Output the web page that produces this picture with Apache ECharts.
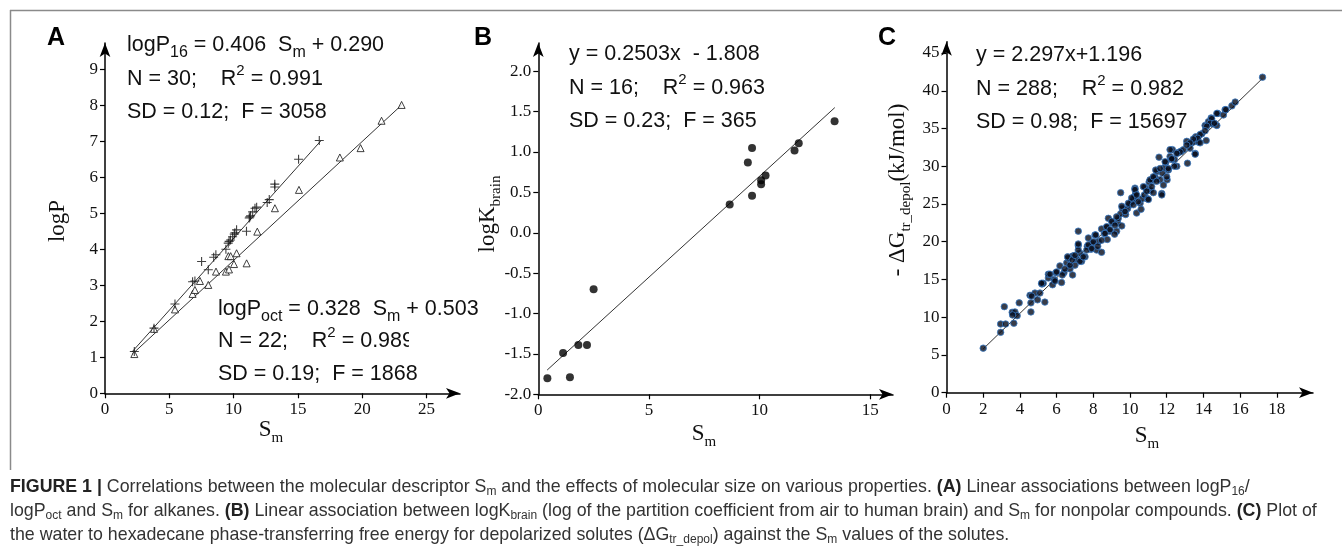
<!DOCTYPE html>
<html><head><meta charset="utf-8">
<script src="https://cdn.jsdelivr.net/npm/echarts@6/dist/echarts.min.js"></script>
<style>html,body{margin:0;padding:0;background:#fff}#c{width:1342px;height:556px}</style>
</head><body><div id="c"></div><script>
// ---------- DATA ----------
// Panel A: logP16 (plus) and logPoct (triangle) vs Sm
const plusA = [[2.28,1.16],[3.81,1.81],[5.44,2.48],[6.81,3.10],[6.99,3.12],[7.51,3.66],[8.03,3.43],[8.45,3.78],[8.62,3.85],[9.40,4.00],[9.58,4.17],[9.76,4.26],[9.92,4.35],[10.10,4.46],[10.23,4.54],[11.00,4.50],[11.21,4.87],[11.32,4.93],[11.48,5.04],[11.66,5.14],[11.79,5.17],[12.61,5.30],[12.77,5.38],[13.20,5.73],[13.20,5.81],[15.05,6.50],[16.66,7.02],[9.65,4.22],[11.26,4.90],[10.05,4.42]];
const triA = [[2.28,1.09],[3.81,1.79],[5.44,2.33],[6.81,2.76],[6.99,2.87],[7.38,3.12],[8.03,3.01],[8.63,3.38],[9.40,3.38],[9.64,3.44],[9.59,3.81],[9.77,3.81],[10.03,3.59],[10.23,3.89],[11.01,3.61],[11.84,4.49],[13.21,5.14],[15.08,5.65],[18.26,6.55],[19.87,6.81],[21.50,7.57],[23.06,8.01]];
const lineA16 = [[2.1,1.15],[16.8,7.02]];
const lineAoct = [[2.1,1.08],[23.1,8.02]];
const xTicksA = [0,5,10,15,20,25];
const yTicksA = [0,1,2,3,4,5,6,7,8,9];
// Panel B: logKbrain vs Sm
const dotsB = [[0.41,-1.80],[1.12,-1.49],[1.43,-1.79],[1.81,-1.39],[2.20,-1.39],[2.50,-0.70],[8.65,0.35],[9.47,0.87],[9.66,1.05],[9.66,0.46],[10.07,0.65],[10.07,0.60],[10.27,0.71],[11.58,1.02],[11.77,1.11],[13.39,1.38]];
const lineB = [[0.4,-1.70],[13.4,1.55]];
const xTicksB = [0,5,10,15];
const yTicksB = [-2,-1.5,-1,-0.5,0,0.5,1,1.5,2];
// Panel C: -dG_tr_depol vs Sm
const dotsC = [[2.0,5.9],[2.95,8.0],[2.95,9.1],[3.22,9.1],[3.15,11.4],[3.67,9.2],[3.58,10.65],[3.73,10.7],[3.85,10.2],[3.96,11.9],[4.6,10.7],[4.55,12.9],[4.6,11.9],[4.82,13.2],[4.96,12.3],[5.09,13.2],[5.2,14.4],[5.36,12.0],[5.27,14.5],[5.55,15.2],[5.55,15.7],[5.78,14.3],[5.87,15.0],[5.96,15.9],[6.18,16.8],[6.27,14.6],[6.4,15.9],[6.55,17.2],[6.64,17.8],[6.73,16.4],[6.87,15.6],[6.87,18.1],[7.0,16.9],[7.09,17.7],[7.18,21.4],[7.18,19.5],[7.27,18.5],[7.36,17.4],[7.55,18.0],[7.67,19.4],[7.73,20.5],[7.87,19.0],[7.95,19.8],[8.09,20.9],[8.18,18.9],[8.27,20.0],[8.45,18.6],[8.45,21.7],[8.6,21.1],[8.73,21.9],[8.76,20.3],[8.82,23.1],[8.91,21.4],[9.04,22.5],[9.27,21.4],[9.33,22.5],[9.36,23.1],[9.49,26.5],[9.49,23.7],[9.58,24.4],[9.55,22.1],[9.76,23.6],[9.87,24.4],[9.96,24.9],[10.09,25.3],[10.18,25.6],[10.24,26.0],[10.31,26.4],[10.36,23.8],[10.27,27.1],[10.55,25.1],[10.6,24.3],[10.67,25.7],[10.78,26.2],[10.82,27.2],[10.96,25.7],[11.04,27.9],[11.11,26.8],[11.22,28.2],[11.27,26.5],[11.36,28.6],[11.47,29.3],[11.58,31.2],[11.64,28.2],[11.73,26.4],[11.76,29.1],[11.87,29.8],[11.95,30.5],[12.02,28.2],[12.09,29.5],[12.18,31.3],[12.31,32.2],[12.42,30.9],[12.55,30.0],[12.6,31.8],[12.78,32.0],[12.91,32.2],[13.09,33.3],[13.13,30.4],[13.27,32.4],[13.45,33.2],[13.55,31.7],[13.58,33.9],[13.73,33.2],[13.91,34.3],[14.09,35.4],[14.15,33.4],[14.27,35.9],[14.42,36.4],[14.55,35.6],[14.73,35.4],[14.78,37.0],[15.09,36.8],[15.18,37.5],[15.55,38.0],[15.73,38.5],[17.22,41.8],
[5.18,14.5],[5.64,15.7],[5.91,14.8],[6.0,16.0],[6.31,15.6],[6.45,16.4],[6.6,18.0],[6.73,16.9],[6.85,17.6],[7.0,18.2],[7.18,18.9],[7.18,19.7],[7.27,17.4],[7.45,18.0],[7.64,18.9],[7.73,19.6],[7.91,19.1],[8.0,20.0],[8.13,20.9],[8.24,19.4],[8.45,20.2],[8.64,21.1],[8.73,22.0],[8.91,21.6],[9.0,22.7],[9.18,22.2],[9.27,23.3],[9.16,21.0],
[9.55,24.7],[9.73,24.0],[9.91,25.1],[10.09,25.8],[10.18,24.9],[10.27,26.9],[10.36,26.2],[10.45,25.3],[10.73,27.3],[10.91,26.7],[11.0,25.6],[11.09,28.2],[11.18,27.3],[11.27,28.6],[11.4,29.5],[11.45,28.0],[11.64,29.7],[11.73,26.2],[11.82,27.5],[11.91,30.6],[12.0,28.6],[12.09,29.7],[12.18,32.2],[12.27,30.9],[12.42,30.0],
[15.22,37.5],[14.73,37.0],[14.45,36.3],[14.36,35.7],[14.6,35.7],[14.18,35.3],[14.09,34.7],[13.82,34.2],[13.69,33.7],[13.45,33.6],[13.82,33.1],[13.27,33.1],[13.09,32.8],[12.73,31.9],[13.55,31.6],[12.55,31.7],[12.27,31.0],[4.64,12.8],[3.6,10.3]];
const lineC = [[2.0,5.8],[17.2,41.6]];
const xTicksC = [0,2,4,6,8,10,12,14,16,18];
const yTicksC = [0,5,10,15,20,25,30,35,40,45];

// ---------- STYLE HELPERS ----------
const SERIF = 'Liberation Serif', SANS = 'Liberation Sans';
function mkAxis(gi, min, max, interval, ticks, fmt, isX){
  return {
    type:'value', gridIndex:gi, min:min, max:max, interval:interval,
    axisLine:{show:true, onZero:false, symbol:['none','arrow'], symbolSize:[8,14], lineStyle:{color:'#000', width:1.5}},
    axisTick:{show:true, inside:false, length:5, lineStyle:{color:'#000', width:1.2}, customValues:ticks},
    axisLabel:{show:true, customValues:ticks, fontFamily:SERIF, fontSize:17, color:'#111', margin:isX?8:7,
      formatter: fmt},
    splitLine:{show:false}
  };
}
const intFmt = v => String(v);
const oneFmt = v => v.toFixed(1);

function eq(x, y, text){
  return {type:'text', x:x, y:y, style:{text:text, x:0, y:0, fontFamily:SANS, fontSize:21.5, fill:'#111', lineHeight:30, verticalAlign:'middle', align:'left',
    rich:{
      sub:{fontFamily:SANS, fontSize:16, lineHeight:16, verticalAlign:'bottom', fill:'#111'},
      sup:{fontFamily:SANS, fontSize:15, lineHeight:15, verticalAlign:'top', fill:'#111'}
    }}};
}
function title(x, y, text, rot){
  return {type:'text', x:x, y:y, rotation:rot||0, style:{text:text, x:0, y:0, fontFamily:SERIF, fontSize:23, fill:'#111', lineHeight:32, verticalAlign:'middle', align:'center',
    rich:{ sub:{fontFamily:SERIF, fontSize:15, lineHeight:15, verticalAlign:'bottom', fill:'#111'} }}};
}
function letter(x, y, t){
  return {type:'text', x:x, y:y, style:{text:t, x:0, y:0, fontFamily:SANS, fontWeight:'bold', fontSize:25, fill:'#000', verticalAlign:'middle', align:'left'}};
}
function cap(y, text){
  return {type:'text', x:10, y:y, style:{text:text, x:0, y:0, fontFamily:SANS, fontSize:17.8, fill:'#333', lineHeight:22, verticalAlign:'middle', align:'left',
    rich:{
      b:{fontFamily:SANS, fontSize:17.8, fontWeight:'bold', fill:'#222', lineHeight:22},
      sub:{fontFamily:SANS, fontSize:12, lineHeight:12, verticalAlign:'bottom', fill:'#333'}
    }}};
}

const lineStyleFit = {color:'#333', width:1};
const option = {
  animation:false,
  backgroundColor:'#fff',
  grid:[
    {left:105, top:43, width:355, height:350.3},
    {left:538.3, top:43, width:354.7, height:351.3},
    {left:946.5, top:41.7, width:366.5, height:351}
  ],
  xAxis:[
    mkAxis(0, 0, 27.6, 5, xTicksA, intFmt, true),
    mkAxis(1, 0, 16.03, 5, xTicksB, intFmt, true),
    mkAxis(2, 0, 19.97, 2, xTicksC, intFmt, true)
  ],
  yAxis:[
    mkAxis(0, 0, 9.73, 1, yTicksA, intFmt, false),
    mkAxis(1, -2, 2.35, 0.5, yTicksB, oneFmt, false),
    mkAxis(2, 0, 46.5, 5, yTicksC, intFmt, false)
  ],
  series:[
    {type:'line', xAxisIndex:0, yAxisIndex:0, data:lineA16, symbol:'none', lineStyle:lineStyleFit, silent:true, z:1},
    {type:'line', xAxisIndex:0, yAxisIndex:0, data:lineAoct, symbol:'none', lineStyle:lineStyleFit, silent:true, z:1},
    {type:'scatter', xAxisIndex:0, yAxisIndex:0, data:triA, symbol:'triangle', symbolSize:7,
      itemStyle:{color:'#fff', borderColor:'#111', borderWidth:1}, z:3},
    {type:'scatter', xAxisIndex:0, yAxisIndex:0, data:plusA, symbol:'path://M5,0V10M0,5H10', symbolSize:9,
      itemStyle:{color:'#111', borderColor:'#111', borderWidth:1.1}, z:4},
    {type:'line', xAxisIndex:1, yAxisIndex:1, data:lineB, symbol:'none', lineStyle:lineStyleFit, silent:true, z:1},
    {type:'scatter', xAxisIndex:1, yAxisIndex:1, data:dotsB, symbol:'circle', symbolSize:8,
      itemStyle:{color:'#000'}, z:3},
    {type:'line', xAxisIndex:2, yAxisIndex:2, data:lineC, symbol:'none', lineStyle:lineStyleFit, silent:true, z:1},
    {type:'scatter', xAxisIndex:2, yAxisIndex:2, data:dotsC, symbol:'circle', symbolSize:6.5,
      itemStyle:{color:'#060b1a', borderColor:'#3a7ac4', borderWidth:1}, z:3}
  ],
  graphic:[
    {type:'line', shape:{x1:10, y1:10.5, x2:1342, y2:10.5}, style:{stroke:'#8a8a8a', lineWidth:1.5}},
    {type:'line', shape:{x1:10.5, y1:10, x2:10.5, y2:470}, style:{stroke:'#8a8a8a', lineWidth:1.5}},
    letter(47, 38, 'A'), letter(474, 38, 'B'), letter(878, 38, 'C'),
    eq(127, 45.3, 'logP{sub|16} = 0.406  S{sub|m} + 0.290'),
    eq(127, 78.6, 'N = 30;    R{sup|2} = 0.991'),
    eq(127, 111.6, 'SD = 0.12;  F = 3058'),
    eq(218, 309.3, 'logP{sub|oct} = 0.328  S{sub|m} + 0.503'),
    eq(218, 340.6, 'N = 22;    R{sup|2} = 0.989'),
    {type:'rect', shape:{x:409, y:328, width:18, height:26}, style:{fill:'#fff'}, z:100},
    eq(218, 374.3, 'SD = 0.19;  F = 1868'),
    eq(569, 54.3, 'y = 0.2503x  - 1.808'),
    eq(569, 87.6, 'N = 16;    R{sup|2} = 0.963'),
    eq(569, 120.6, 'SD = 0.23;  F = 365'),
    eq(976, 55.3, 'y = 2.297x+1.196'),
    eq(976, 88.6, 'N = 288;    R{sup|2} = 0.982'),
    eq(976, 121.6, 'SD = 0.98;  F = 15697'),
    title(58, 221, 'logP', Math.PI/2),
    title(271, 430, 'S{sub|m}'),
    title(488, 214, 'logK{sub|brain}', Math.PI/2),
    title(704, 434, 'S{sub|m}'),
    title(898, 190, '- ΔG{sub|tr_depol}(kJ/mol)', Math.PI/2),
    title(1147, 436, 'S{sub|m}'),
    cap(487, '{b|FIGURE 1 |} Correlations between the molecular descriptor S{sub|m} and the effects of molecular size on various properties. {b|(A)} Linear associations between logP{sub|16}/'),
    cap(511, 'logP{sub|oct} and S{sub|m} for alkanes. {b|(B)} Linear association between logK{sub|brain} (log of the partition coefficient from air to human brain) and S{sub|m} for nonpolar compounds. {b|(C)} Plot of'),
    cap(535, 'the water to hexadecane phase-transferring free energy for depolarized solutes (ΔG{sub|tr_depol}) against the S{sub|m} values of the solutes.')
  ]
};
const chart = echarts.init(document.getElementById('c'), null, {renderer:'canvas'});
chart.setOption(option);
</script></body></html>
